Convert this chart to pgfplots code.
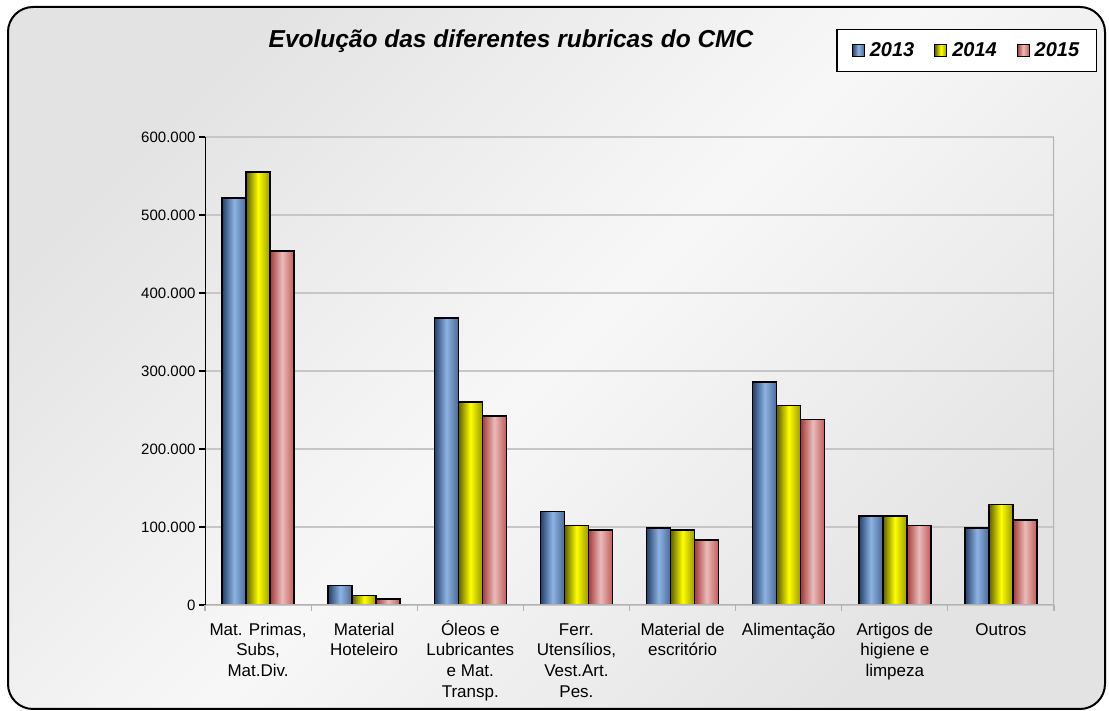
\documentclass[border=0pt]{standalone}
\usepackage{pgfplots}
\pgfplotsset{compat=1.18}
\usepackage{fontspec}
\setmainfont{Liberation Sans}
\definecolor{bL}{HTML}{23406A}
\definecolor{bM}{HTML}{8DB3E2}
\definecolor{bR}{HTML}{4A6A98}
\definecolor{yL}{HTML}{5E5E00}
\definecolor{yM}{HTML}{FFFF00}
\definecolor{yR}{HTML}{9A9A00}
\definecolor{pL}{HTML}{A83A37}
\definecolor{pM}{HTML}{E8BCBB}
\definecolor{pR}{HTML}{C45A57}
\pgfplotsset{sqlegend/.style={legend image code/.code={\draw[##1, line width=0.9pt] (0pt,-6pt) rectangle (12pt,6pt);}}}
\pgfplotstableread{
x a b c
0 522 555 454
1 25 12 8
2 368 260 242
3 120 102 96
4 99 96 83
5 286 256 238
6 114 114 102
7 99 129 109
}\datatable
\begin{document}
\begin{tikzpicture}[x=1pt,y=1pt]
\path[use as bounding box] (0,0) rectangle (1109,711);
\shade[rounded corners=25pt, top color=black!11, bottom color=black!11, middle color=black!3, shading angle=45] (8,2) rectangle (1105,704);
\draw[rounded corners=25pt, line width=2pt] (8,2) rectangle (1105,704);
\node[font=\fontsize{24.5}{28}\selectfont\bfseries\itshape] at (511,670) {Evolução das diferentes rubricas do CMC};
\begin{axis}[
  at={(205pt,106pt)}, anchor=south west,
  width=849pt, height=468pt, scale only axis,
  xmin=-0.5, xmax=7.5, ymin=0, ymax=600,
  axis line style={draw=none},
  xtick pos=bottom, ytick pos=left,
  ytick={0,100,...,600},
  yticklabels={0,100.000,200.000,300.000,400.000,500.000,600.000},
  yticklabel style={font=\fontsize{15}{18}\selectfont},
  ytick style={black, line width=1.2pt},
  tick align=outside, major tick length=6pt,
  xtick={0,...,7},
  xtick style={draw=none},
  xticklabels={{\vphantom{Ó}Mat. Primas,\\Subs,\\Mat.Div.},{\vphantom{Ó}Material\\Hoteleiro},{Óleos e\\Lubricantes\\e Mat.\\Transp.},{\vphantom{Ó}Ferr.\\Utensílios,\\Vest.Art.\\Pes.},{\vphantom{Ó}Material de\\escritório},{\vphantom{Ó}Alimentação},{\vphantom{Ó}Artigos de\\higiene e\\limpeza},{\vphantom{Ó}Outros}},
  xticklabel style={align=center, font=\fontsize{17}{20.7}\selectfont, yshift=-6pt},
  extra x ticks={-0.5,0.5,...,7.5},
  extra x tick labels={},
  extra x tick style={xtick style={draw=gray!60, line width=1.2pt}},
  ymajorgrids, grid style={gray!45, line width=1.5pt},
  legend style={at={(0.897,1.185)}, anchor=center, draw=black, line width=1.2pt, fill=white,
    legend columns=3, font=\fontsize{20}{24}\selectfont\bfseries\itshape,
    inner xsep=15pt, inner ysep=11.5pt,
    /tikz/every odd column/.append style={column sep=3pt},
    /tikz/every even column/.append style={column sep=18pt}},
  legend cell align=left,
  bars/.style={ybar, ybar=0pt, bar width=24pt, draw=black, line width=1.6pt, forget plot},
]
\addlegendimage{sqlegend, draw=black, left color=bL, right color=bR, middle color=bM}
\addlegendentry{2013}
\addlegendimage{sqlegend, draw=black, left color=yL, right color=yR, middle color=yM}
\addlegendentry{2014}
\addlegendimage{sqlegend, draw=black, left color=pL, right color=pR, middle color=pM}
\addlegendentry{2015}
\pgfplotsinvokeforeach{0,...,7}{
\addplot[bars, bar shift=-24pt, left color=bL, right color=bR, middle color=bM, restrict x to domain=#1:#1] table[x=x,y=a]{\datatable};
\addplot[bars, bar shift=0pt, left color=yL, right color=yR, middle color=yM, restrict x to domain=#1:#1] table[x=x,y=b]{\datatable};
\addplot[bars, bar shift=24pt, left color=pL, right color=pR, middle color=pM, restrict x to domain=#1:#1] table[x=x,y=c]{\datatable};
}
\draw[gray!60, line width=1.5pt] (rel axis cs:0,0) -- (rel axis cs:1,0) -- (rel axis cs:1,1);
\draw[black, line width=1.8pt] (rel axis cs:0,0) -- (rel axis cs:0,1);
\end{axis}
\end{tikzpicture}
\end{document}
